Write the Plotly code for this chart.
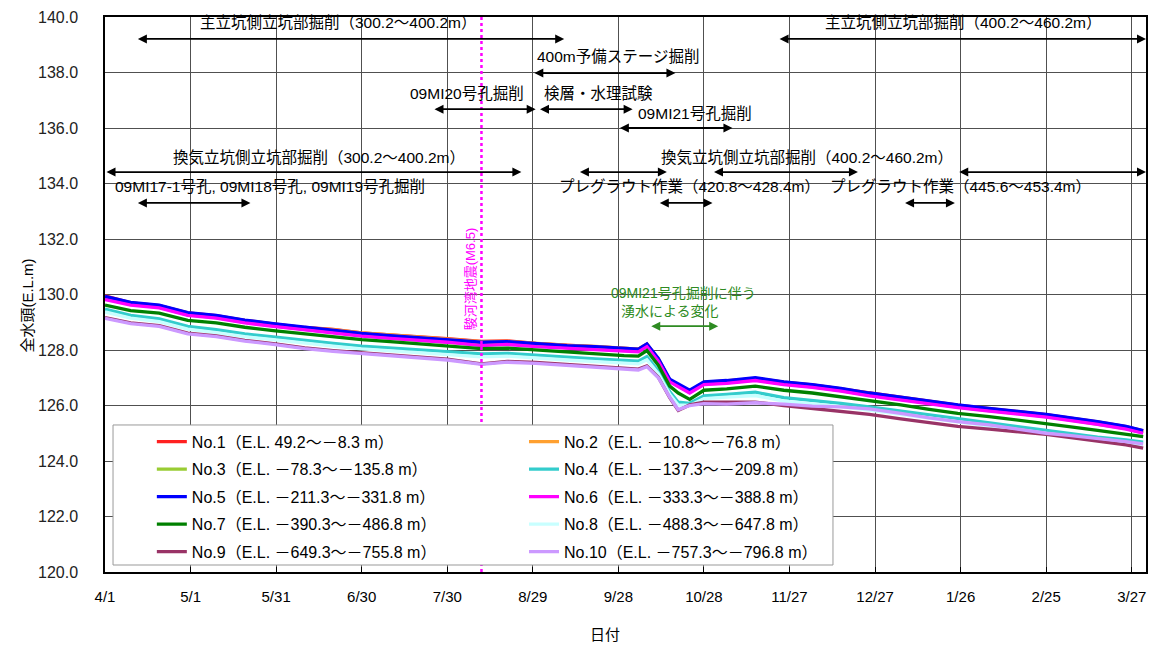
import plotly.graph_objects as go

# ---------------- data ----------------
dates = ["2009-04-01", "2009-04-10", "2009-04-20", "2009-04-30", "2009-05-10", "2009-05-20",
         "2009-05-30", "2009-06-10", "2009-06-20", "2009-06-30", "2009-07-10", "2009-07-20",
         "2009-07-30", "2009-08-11", "2009-08-20", "2009-08-30", "2009-09-10", "2009-09-20",
         "2009-09-30", "2009-10-05", "2009-10-08", "2009-10-12", "2009-10-16", "2009-10-19",
         "2009-10-23", "2009-10-28", "2009-11-05", "2009-11-15", "2009-11-25", "2009-12-05",
         "2009-12-15", "2009-12-25", "2010-01-05", "2010-01-15", "2010-01-25", "2010-02-05",
         "2010-02-15", "2010-02-25", "2010-03-05", "2010-03-15", "2010-03-25", "2010-03-31"]

no1 = [129.95, 129.70, 129.60, 129.34, 129.24, 129.07, 128.94, 128.81, 128.74, 128.62, 128.54, 128.48,
       128.41, 128.31, 128.33, 128.24, 128.17, 128.13, 128.06, 128.03, 128.21, 127.68, 126.92, 126.76,
       126.52, 126.83, 126.88, 126.98, 126.84, 126.74, 126.60, 126.44, 126.29, 126.14, 126.01, 125.89,
       125.79, 125.67, 125.55, 125.41, 125.24, 125.09]
no2 = [129.90, 129.70, 129.60, 129.33, 129.22, 129.06, 128.93, 128.80, 128.73, 128.62, 128.54, 128.47,
       128.40, 128.30, 128.31, 128.24, 128.17, 128.13, 128.06, 128.03, 128.20, 127.68, 126.92, 126.75,
       126.52, 126.83, 126.88, 126.97, 126.83, 126.73, 126.60, 126.43, 126.28, 126.13, 126.00, 125.88,
       125.78, 125.66, 125.54, 125.40, 125.23, 125.08]
no3 = [129.85, 129.64, 129.54, 129.27, 129.17, 129.00, 128.87, 128.74, 128.64, 128.52, 128.44, 128.37,
       128.30, 128.19, 128.22, 128.14, 128.08, 128.04, 127.97, 127.95, 128.14, 127.62, 126.87, 126.70,
       126.47, 126.77, 126.82, 126.92, 126.77, 126.67, 126.54, 126.37, 126.22, 126.07, 125.94, 125.82,
       125.72, 125.60, 125.48, 125.34, 125.17, 125.02]
no4 = [129.47, 129.25, 129.12, 128.85, 128.73, 128.58, 128.47, 128.34, 128.24, 128.14, 128.07, 128.01,
       127.95, 127.86, 127.88, 127.80, 127.74, 127.68, 127.62, 127.60, 127.76, 127.25, 126.50, 126.12,
       126.08, 126.35, 126.40, 126.48, 126.28, 126.18, 126.08, 125.95, 125.80, 125.65, 125.52, 125.38,
       125.22, 125.08, 124.98, 124.86, 124.76, 124.68]
no5 = [129.93, 129.72, 129.62, 129.35, 129.25, 129.08, 128.95, 128.82, 128.72, 128.60, 128.52, 128.45,
       128.38, 128.28, 128.30, 128.22, 128.16, 128.12, 128.05, 128.03, 128.22, 127.70, 126.95, 126.78,
       126.55, 126.85, 126.90, 127.00, 126.85, 126.75, 126.62, 126.45, 126.30, 126.15, 126.02, 125.90,
       125.80, 125.68, 125.56, 125.42, 125.25, 125.10]
no6 = [129.82, 129.62, 129.52, 129.25, 129.15, 128.98, 128.85, 128.72, 128.62, 128.50, 128.42, 128.35,
       128.28, 128.16, 128.20, 128.12, 128.06, 128.02, 127.95, 127.93, 128.12, 127.60, 126.85, 126.68,
       126.45, 126.75, 126.80, 126.90, 126.75, 126.65, 126.52, 126.35, 126.20, 126.05, 125.92, 125.80,
       125.70, 125.58, 125.46, 125.32, 125.15, 125.00]
no7 = [129.62, 129.42, 129.33, 129.07, 128.98, 128.82, 128.70, 128.58, 128.48, 128.37, 128.30, 128.22,
       128.15, 128.05, 128.07, 128.00, 127.93, 127.88, 127.80, 127.78, 127.98, 127.45, 126.70, 126.45,
       126.22, 126.55, 126.60, 126.70, 126.55, 126.45, 126.32, 126.18, 126.02, 125.86, 125.72, 125.60,
       125.48, 125.36, 125.24, 125.10, 124.97, 124.88]
no8 = [129.37, 129.15, 129.02, 128.75, 128.63, 128.48, 128.37, 128.24, 128.14, 128.04, 127.97, 127.91,
       127.85, 127.75, 127.78, 127.70, 127.64, 127.58, 127.52, 127.50, 127.65, 127.15, 126.40, 126.02,
       126.00, 126.25, 126.30, 126.36, 126.16, 126.06, 125.96, 125.83, 125.68, 125.53, 125.40, 125.26,
       125.11, 124.97, 124.87, 124.75, 124.65, 124.58]
no9 = [129.17, 128.98, 128.88, 128.61, 128.51, 128.35, 128.23, 128.08, 127.98, 127.90, 127.81, 127.73,
       127.67, 127.50, 127.59, 127.55, 127.48, 127.41, 127.33, 127.31, 127.43, 127.02, 126.28, 125.82,
       126.02, 126.12, 126.12, 126.12, 126.00, 125.90, 125.80, 125.68, 125.52, 125.38, 125.25, 125.15,
       125.05, 124.96, 124.85, 124.72, 124.58, 124.46]
no10 = [129.14, 128.95, 128.85, 128.58, 128.48, 128.32, 128.20, 128.05, 127.95, 127.87, 127.78, 127.70,
        127.64, 127.48, 127.56, 127.52, 127.45, 127.38, 127.30, 127.28, 127.40, 127.00, 126.30, 125.85,
        126.00, 126.07, 126.05, 126.10, 126.05, 125.98, 125.95, 125.88, 125.72, 125.55, 125.42, 125.30,
        125.15, 125.00, 124.92, 124.82, 124.70, 124.62]

series_names = ["No.1（E.L. 49.2～－8.3 m）", "No.2（E.L. －10.8～－76.8 m）",
                "No.3（E.L. －78.3～－135.8 m）", "No.4（E.L. －137.3～－209.8 m）",
                "No.5（E.L. －211.3～－331.8 m）", "No.6（E.L. －333.3～－388.8 m）",
                "No.7（E.L. －390.3～－486.8 m）", "No.8（E.L. －488.3～－647.8 m）",
                "No.9（E.L. －649.3～－755.8 m）", "No.10（E.L. －757.3～－796.8 m）"]
series_values = [no1, no2, no3, no4, no5, no6, no7, no8, no9, no10]
series_colors = ["#FF2020", "#FFA030", "#99CC33", "#33CCCC", "#0000FF",
                 "#FF00FF", "#008000", "#C8FFFF", "#993366", "#CC99FF"]

tick_dates = ["2009-04-01", "2009-05-01", "2009-05-31", "2009-06-30", "2009-07-30", "2009-08-29",
              "2009-09-28", "2009-10-28", "2009-11-27", "2009-12-27", "2010-01-26", "2010-02-25",
              "2010-03-27"]
tick_labels = ["4/1", "5/1", "5/31", "6/30", "7/30", "8/29", "9/28", "10/28", "11/27", "12/27",
               "1/26", "2/25", "3/27"]

# work-schedule arrows (start, end, level)
bar_start = ["2009-04-12", "2009-11-23", "2009-08-29", "2009-07-25", "2009-08-31", "2009-09-28",
             "2009-04-01", "2009-09-14", "2009-10-31", "2010-01-25", "2009-04-12", "2009-10-12",
             "2010-01-06"]
bar_end = ["2009-09-09", "2010-04-01", "2009-10-18", "2009-08-30", "2009-10-03", "2009-11-07",
           "2009-08-25", "2009-10-15", "2009-12-21", "2010-04-01", "2009-05-22", "2009-10-31",
           "2010-01-24"]
bar_level = [139.21, 139.21, 137.98, 136.68, 136.68, 136.00, 134.41, 134.41, 134.41, 134.41,
             133.30, 133.30, 133.30]

label_text = ["主立坑側立坑部掘削（300.2～400.2m）", "主立坑側立坑部掘削（400.2～460.2m）",
              "400m予備ステージ掘削", "09MI20号孔掘削", "検層・水理試験", "09MI21号孔掘削",
              "換気立坑側立坑部掘削（300.2～400.2m）", "換気立坑側立坑部掘削（400.2～460.2m）",
              "09MI17-1号孔, 09MI18号孔, 09MI19号孔掘削",
              "プレグラウト作業（420.8～428.4m）", "プレグラウト作業（445.6～453.4m）"]
label_date = ["2009-06-22", "2010-01-27", "2009-09-28", "2009-08-06", "2009-09-21", "2009-10-25",
              "2009-06-15", "2009-12-03", "2009-05-29", "2009-10-23", "2010-01-26"]
label_level = [139.82, 139.82, 138.56, 137.26, 137.26, 136.54, 134.95, 134.95, 133.91, 133.91, 133.91]

quake_date = "2009-08-11"
quake_label = "駿河湾地震(M6.5)"
quake_label_date = "2009-08-07"
quake_label_level = 130.55

inflow_text = ["09MI21号孔掘削に伴う", "湧水による変化"]
inflow_date = ["2009-10-21", "2009-10-16"]
inflow_level = [130.05, 129.41]
inflow_start = "2009-10-09"
inflow_end = "2009-11-02"
inflow_arrow_level = 128.86

y_title = "全水頭(E.L.m)"
x_title = "日付"

# ---------------- figure ----------------
FONT = "Liberation Sans, Noto Sans CJK JP, sans-serif"

fig = go.Figure()
for i, (name, color, vals) in enumerate(zip(series_names, series_colors, series_values)):
    fig.add_trace(go.Scatter(x=dates, y=vals, mode="lines", name=name,
                             legend="legend" if i % 2 == 0 else "legend2",
                             legendgroup="g%d" % i,
                             line=dict(color=color, width=3.3)))

annotations = []
for s, e, lv in zip(bar_start, bar_end, bar_level):
    annotations.append(dict(x=e, y=lv, ax=s, ay=lv, xref="x", yref="y", axref="x", ayref="y",
                            text="", showarrow=True, arrowside="end+start", arrowhead=2,
                            startarrowhead=2, arrowsize=1, startarrowsize=1, arrowwidth=1.8,
                            arrowcolor="black", standoff=0, startstandoff=0))
for t, d, lv in zip(label_text, label_date, label_level):
    annotations.append(dict(x=d, y=lv, xref="x", yref="y", text=t, showarrow=False,
                            font=dict(family=FONT, size=15.5, color="black")))

annotations.append(dict(x=quake_label_date, y=quake_label_level, xref="x", yref="y",
                        text=quake_label, showarrow=False, textangle=-90,
                        font=dict(family=FONT, size=13, color="#FF00FF")))
for t, d, lv in zip(inflow_text, inflow_date, inflow_level):
    annotations.append(dict(x=d, y=lv, xref="x", yref="y", text=t, showarrow=False,
                            font=dict(family=FONT, size=14, color="#2E8B22")))
annotations.append(dict(x=inflow_end, y=inflow_arrow_level, ax=inflow_start, ay=inflow_arrow_level,
                        xref="x", yref="y", axref="x", ayref="y", text="", showarrow=True,
                        arrowside="end+start", arrowhead=2, startarrowhead=2, arrowsize=1,
                        startarrowsize=1, arrowwidth=1.8, arrowcolor="#2E8B22",
                        standoff=0, startstandoff=0))
# axis titles
annotations.append(dict(x=0, y=0.48, xref="paper", yref="paper", xshift=-77, text=y_title,
                        showarrow=False, textangle=-90, xanchor="center", yanchor="middle",
                        font=dict(family=FONT, size=15, color="black")))
annotations.append(dict(x=0.48, y=0, xref="paper", yref="paper", yshift=-62, text=x_title,
                        showarrow=False, xanchor="center", yanchor="middle",
                        font=dict(family=FONT, size=15, color="black")))

shapes = [
    dict(type="line", xref="x", yref="paper", x0=quake_date, x1=quake_date, y0=0, y1=1,
         line=dict(color="#FF00FF", width=2.5, dash="dot"), layer="above"),
    dict(type="rect", xref="paper", yref="paper", x0=0.0077, x1=0.6993, y0=0.0126, y1=0.2649,
         line=dict(color="#999999", width=1), fillcolor="white", layer="above"),
]

legend_common = dict(orientation="v", yanchor="top", xanchor="left", y=0.2652,
                     bgcolor="rgba(0,0,0,0)", borderwidth=0, tracegroupgap=3.7,
                     traceorder="grouped", font=dict(family=FONT, size=16, color="black"))

fig.update_layout(
    width=1155, height=641,
    margin=dict(l=97, r=17, t=9, b=77),
    paper_bgcolor="white", plot_bgcolor="white",
    font=dict(family=FONT, size=15, color="black"),
    showlegend=True,
    legend=dict(x=0.045, **legend_common),
    legend2=dict(x=0.4025, **legend_common),
    annotations=annotations,
    shapes=shapes,
    xaxis=dict(type="date", range=["2009-04-01", "2010-04-01"], tickvals=tick_dates,
               ticktext=tick_labels, showgrid=True, gridcolor="#505050", gridwidth=1,
               ticks="inside", ticklen=5, tickcolor="black", showline=True, linecolor="black",
               linewidth=1.5, mirror=True, zeroline=False, ticklabelstandoff=10,
               automargin=False,
               tickfont=dict(family=FONT, size=15, color="black")),
    yaxis=dict(range=[120, 140], dtick=2, tick0=120, tickformat=".1f", showgrid=True,
               gridcolor="#505050", gridwidth=1, ticks="", showline=True, linecolor="black",
               linewidth=1.5, mirror=True, zeroline=False, ticklabelstandoff=22,
               automargin=False, ticklabeloverflow="allow",
               tickfont=dict(family=FONT, size=16, color="#222222")),
)

fig.write_html("out.html")
